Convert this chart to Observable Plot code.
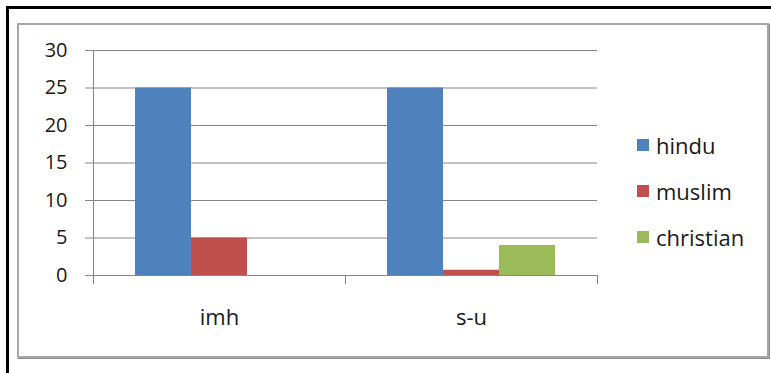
<!DOCTYPE html>
<html>
<head>
<meta charset="utf-8">
<script src="https://cdn.jsdelivr.net/npm/d3@7"></script>
<script src="https://cdn.jsdelivr.net/npm/@observablehq/plot@0.6"></script>
<style>
  html, body { margin: 0; padding: 0; background: #fff; overflow: hidden; }
  #page { position: relative; width: 771px; height: 373px; font-family: "Open Sans", sans-serif; }
  #outer { position: absolute; left: 6px; top: 6px; width: 800px; height: 400px; border: 3px solid #000; box-sizing: border-box; }
  #inner { position: absolute; left: 17px; top: 23px; width: 752px; height: 335px; border: 2px solid #a6a6a6; box-sizing: border-box; box-shadow: 1px 1px 0 #8c8c8c; }
  #chart { position: absolute; left: 0; top: 0; }
  #legend { position: absolute; left: 637px; top: 133px; }
  .item { display: flex; align-items: center; height: 24px; margin-bottom: 22px; font-size: 22px; color: #1a1a1a; }
  .sw { width: 12px; height: 12px; margin-right: 7px; }
</style>
</head>
<body>
<div id="page">
  <div id="outer"></div>
  <div id="inner"></div>
  <div id="chart"></div>
  <div id="legend"></div>
</div>
<script>
// Groups along the x axis and the series drawn in each group
const categories = ["imh", "s-u"];
const series = ["hindu", "muslim", "christian"];
const colors = ["#4F81BD", "#C0504D", "#9BBB59"];

// Counts per series, one value per group
const hindu = [25, 25];
const muslim = [5, 0.7];
const christian = [0, 4];

const yTicks = [0, 5, 10, 15, 20, 25, 30];

const valuesBySeries = {hindu, muslim, christian};
const rows = categories.flatMap((cat, i) =>
  series.map(s => ({category: cat, series: s, value: valuesBySeries[s][i]}))
);

const grid = "#868686";

const chart = Plot.plot({
  width: 771,
  height: 373,
  marginLeft: 92,
  marginRight: 174,
  marginTop: 50,
  marginBottom: 98,
  style: {fontFamily: "Open Sans, sans-serif", fontSize: "20px", color: "#1a1a1a", background: "transparent"},
  fx: {domain: categories, padding: 0, label: null},
  x: {domain: series, paddingInner: 0, paddingOuter: 0.745, axis: null},
  y: {domain: [0, 30], ticks: yTicks, label: null},
  color: {domain: series, range: colors},
  marks: [
    // horizontal gridlines; facets touch, so they read as one line
    Plot.ruleY(yTicks, {stroke: grid, strokeWidth: 1}),
    // vertical value axis line
    Plot.frame({anchor: "left", stroke: grid, facet: "super"}),
    Plot.axisY({ticks: yTicks, tickSize: 8, tickPadding: 18, stroke: grid, label: null, fontSize: 20}),
    Plot.barY(rows, {fx: "category", x: "series", y: "value", fill: "series"}),
    // category axis line and boundary tick marks
    Plot.ruleY([0], {stroke: grid}),
    Plot.frame({anchor: "left", stroke: grid, insetTop: 225, insetBottom: -8}),
    Plot.frame({anchor: "right", stroke: grid, insetTop: 225, insetBottom: -8}),
    Plot.axisFx({anchor: "bottom", tickSize: 0, tickPadding: 34, label: null, fontSize: 22})
  ]
});
document.getElementById("chart").appendChild(chart);

// Legend on the right, one row per series
const legend = document.getElementById("legend");
series.forEach((s, i) => {
  const item = document.createElement("div");
  item.className = "item";
  const sw = document.createElement("div");
  sw.className = "sw";
  sw.style.background = colors[i];
  const label = document.createElement("span");
  label.textContent = s;
  item.appendChild(sw);
  item.appendChild(label);
  legend.appendChild(item);
});
</script>
</body>
</html>
